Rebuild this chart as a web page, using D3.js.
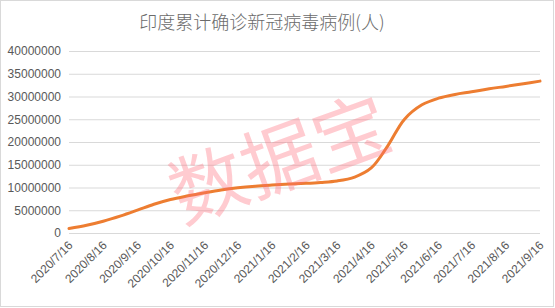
<!DOCTYPE html>
<html><head><meta charset="utf-8">
<script src="https://cdn.jsdelivr.net/npm/d3@7"></script>
<style>body{margin:0;background:#fff;}svg{display:block;font-family:"Liberation Sans",Arial,sans-serif;}</style>
</head><body>
<script>
const title = "印度累计确诊新冠病毒病例(人)";
const dates = ["2020-07-16","2020-08-01","2020-08-16","2020-09-01","2020-09-16","2020-10-01","2020-10-16","2020-11-01","2020-11-16","2020-12-01","2020-12-16","2021-01-01","2021-01-16","2021-02-01","2021-02-16","2021-03-01","2021-03-16","2021-04-01","2021-04-16","2021-05-01","2021-05-16","2021-06-01","2021-06-16","2021-07-01","2021-07-16","2021-08-01","2021-08-16","2021-09-01","2021-09-16"];
const cases = [970000,1700000,2590000,3770000,5020000,6310000,7370000,8180000,8850000,9460000,9930000,10290000,10540000,10770000,10930000,11120000,11440000,12300000,14290000,19160000,24970000,28170000,29630000,30460000,31030000,31700000,32220000,32810000,33380000];
const tickDates = ["2020-07-16","2020-08-16","2020-09-16","2020-10-16","2020-11-16","2020-12-16","2021-01-16","2021-02-16","2021-03-16","2021-04-16","2021-05-16","2021-06-16","2021-07-16","2021-08-16","2021-09-16"];
const tickLabels = ["2020/7/16","2020/8/16","2020/9/16","2020/10/16","2020/11/16","2020/12/16","2021/1/16","2021/2/16","2021/3/16","2021/4/16","2021/5/16","2021/6/16","2021/7/16","2021/8/16","2021/9/16"];
const yTicks = [0,5000000,10000000,15000000,20000000,25000000,30000000,35000000,40000000];
const watermark = "数据宝";

const W=555,H=308;
const parse = d3.utcParse("%Y-%m-%d");
const svg = d3.select("body").append("svg").attr("width",W).attr("height",H);
svg.append("rect").attr("x",0.5).attr("y",0.5).attr("width",W-2).attr("height",H-2).attr("fill","#fff").attr("stroke","#d9d9d9");

const x = d3.scaleUtc().domain([parse(dates[0]), parse(dates[dates.length-1])]).range([69,540]);
const y = d3.scaleLinear().domain([0,40000000]).range([233,51]);

svg.append("text").attr("x",262).attr("y",29).attr("text-anchor","middle")
  .attr("font-size",18).attr("fill","#6b6b6b").attr("font-weight",300)
  .attr("font-family","'Noto Sans CJK SC',sans-serif").text(title);

// grid
const yAxis = d3.axisLeft(y).tickValues(yTicks).tickSize(-(540-69)).tickFormat(d=>String(d)).tickPadding(8);
const gy = svg.append("g").attr("transform","translate(69,0)").call(yAxis);
gy.select(".domain").remove();
gy.selectAll(".tick line").attr("stroke","#d9d9d9");
gy.selectAll(".tick text").attr("fill","#595959").attr("font-size",12).attr("font-family","'Liberation Sans',Arial,sans-serif");

// x axis labels
const xAxis = d3.axisBottom(x).tickValues(tickDates.map(parse)).tickSize(0).tickFormat((d,i)=>tickLabels[i]);
const gx = svg.append("g").attr("transform","translate(0,233)").call(xAxis);
gx.select(".domain").remove();
gx.selectAll(".tick text").attr("fill","#595959").attr("font-size",12)
  .attr("font-family","'Liberation Sans',Arial,sans-serif")
  .attr("text-anchor","end").attr("dy",null).attr("y",null)
  .attr("transform","translate(4,13) rotate(-45)");

// line
const data = dates.map((d,i)=>({d:parse(d),v:cases[i]}));
svg.append("path").datum(data).attr("fill","none").attr("stroke","#ED7D31").attr("stroke-width",3)
  .attr("stroke-linecap","round")
  .attr("d", d3.line().x(d=>x(d.d)).y(d=>y(d.v)).curve(d3.curveCatmullRom.alpha(0.5)));

// watermark (drawn on top, semi-transparent)
svg.append("text").attr("transform","translate(280,160) rotate(-20)").attr("text-anchor","middle")
  .attr("dy","0.35em")
  .attr("font-size",76).attr("fill","#ff6a78").attr("fill-opacity",0.35)
  .attr("font-family","'Noto Sans CJK SC',sans-serif").attr("font-weight",400).text(watermark);
</script>
</body></html>
